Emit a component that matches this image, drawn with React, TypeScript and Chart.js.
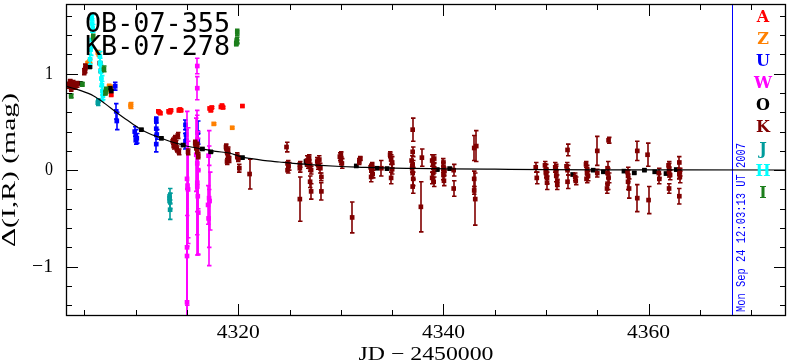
import React, { useEffect, useRef } from 'react';
import { Chart, registerables } from 'chart.js';

Chart.register(...registerables);

// ---------- axis ranges & ticks ----------
const X_MIN = 4303.2;
const X_MAX = 4373.4;
const Y_MIN = -1.512;
const Y_MAX = 1.723;
const xMajorTicks = [4320, 4340, 4360];
const xMinorStep = 5;
const yMajorTicks = [-1, 0, 1];
const yMinorStep = 0.2;

const xTitle = 'JD \u2212 2450000';
const yTitle = '\u0394(I,R) (mag)';
const titleLines = ['OB-07-355', 'KB-07-278'];
const dateStamp = 'Mon Sep 24 12:03:13 UT 2007';
const stampJD = 4368.1;

// ---------- series (legend order) ----------
const seriesNames = ['A', 'Z', 'U', 'W', 'O', 'K', 'J', 'H', 'I'];
const seriesColors = ['#ff0000', '#ff8000', '#0000ff', '#ff00ff', '#000000', '#800000', '#009c9c', '#00ffff', '#1c7f1c'];

// [JD-2450000, Δmag, error]
const obsA = [
  [4307.6, 0.78, 0.01],
  [4312.2, 0.61, 0.01], [4312.3, 0.60, 0.01], [4312.4, 0.59, 0.01],
  [4313.2, 0.61, 0.01], [4313.3, 0.60, 0.01], [4313.4, 0.62, 0.01],
  [4314.2, 0.62, 0.01], [4314.3, 0.63, 0.01], [4314.4, 0.62, 0.01],
  [4317.2, 0.64, 0.01], [4317.3, 0.62, 0.01], [4317.4, 0.65, 0.01],
  [4318.3, 0.655, 0.01], [4318.4, 0.67, 0.01], [4318.5, 0.65, 0.01],
  [4320.4, 0.665, 0.01],
];
const obsZ = [
  [4305.3, 1.11, 0.02], [4305.5, 1.13, 0.02], [4306.3, 1.22, 0.02], [4306.4, 1.20, 0.02],
  [4307.4, 0.87, 0.02], [4307.5, 0.84, 0.02], [4307.6, 0.86, 0.02],
  [4309.5, 0.68, 0.02], [4309.5, 0.66, 0.02],
  [4317.6, 0.48, 0.01], [4319.4, 0.44, 0.01],
];
const obsU = [
  [4308.0, 0.87, 0.04], [4308.1, 0.61, 0.08], [4308.15, 0.51, 0.09],
  [4309.9, 0.40, 0.05], [4310.0, 0.36, 0.06], [4310.1, 0.33, 0.05], [4310.0, 0.31, 0.04],
  [4312.0, 0.52, 0.03], [4312.0, 0.43, 0.06], [4312.05, 0.37, 0.05], [4312.0, 0.27, 0.08],
  [4314.85, 0.47, 0.05], [4314.9, 0.37, 0.05], [4314.85, 0.30, 0.08],
  [4316.05, 0.39, 0.12], [4316.05, 0.30, 0.08],
];
const obsW = [
  [4315.0, -0.09, 0.70], [4315.05, -0.16, 0.60], [4315.1, -0.20, 0.50],
  [4315.0, -0.80, 0.60], [4315.0, -0.89, 0.70], [4315.0, -1.37, 0.90],
  [4316.0, 1.08, 0.08], [4316.0, 0.85, 0.12],
  [4315.9, 0.16, 0.38], [4316.0, 0.07, 0.50], [4316.1, 0.0, 0.40], [4316.0, -0.17, 0.50],
  [4316.05, -0.27, 0.60], [4316.1, -0.44, 0.44], [4316.0, -0.13, 0.75],
  [4317.15, -0.29, 0.70], [4317.1, 0.15, 0.10], [4317.2, -0.32, 0.30], [4317.1, -0.50, 0.30], [4317.05, -0.36, 0.20],
];
const obsO = [
  [4304.6, 0.90, 0.01], [4305.5, 1.07, 0.01], [4306.5, 1.11, 0.01], [4306.6, 1.03, 0.01],
  [4307.5, 0.85, 0.01], [4307.6, 0.82, 0.01], [4310.55, 0.42, 0.01], [4312.5, 0.33, 0.01],
  [4314.6, 0.26, 0.01], [4316.5, 0.22, 0.01], [4317.3, 0.19, 0.01], [4320.4, 0.13, 0.01],
  [4326.6, 0.09, 0.01], [4326.7, 0.06, 0.01], [4331.5, 0.044, 0.01], [4333.5, 0.02, 0.01],
  [4334.5, 0.016, 0.01], [4339.4, 0.006, 0.01], [4340.6, 0.016, 0.01], [4352.6, -0.045, 0.01],
  [4354.6, 0.0, 0.01], [4355.6, -0.017, 0.01], [4357.6, -0.01, 0.01], [4358.6, -0.028, 0.01],
  [4359.6, 0.0, 0.01], [4360.6, -0.017, 0.01], [4361.7, -0.035, 0.01], [4362.7, 0.006, 0.01],
];
const obsK = [
  [4303.5, 0.88, 0.03], [4303.7, 0.85, 0.03], [4303.9, 0.90, 0.03], [4304.1, 0.87, 0.03], [4304.3, 0.89, 0.03], [4303.6, 0.92, 0.02],
  [4305.0, 1.02, 0.03], [4305.1, 1.07, 0.03], [4305.05, 1.04, 0.03],
  [4313.6, 0.30, 0.03], [4313.7, 0.25, 0.03], [4313.8, 0.33, 0.03], [4313.9, 0.28, 0.03], [4314.0, 0.22, 0.03],
  [4314.1, 0.36, 0.03], [4314.2, 0.19, 0.03], [4313.8, 0.26, 0.03], [4315.1, 0.19, 0.03],
  [4315.8, 0.28, 0.03], [4315.9, 0.24, 0.03], [4316.0, 0.20, 0.03], [4316.1, 0.15, 0.03], [4316.0, 0.26, 0.03],
  [4318.8, 0.24, 0.03], [4318.9, 0.19, 0.03], [4319.0, 0.15, 0.03], [4319.1, 0.11, 0.03], [4318.9, 0.09, 0.03], [4319.0, 0.21, 0.03],
  [4319.9, 0.15, 0.03], [4320.0, 0.12, 0.03], [4320.1, 0.02, 0.04], [4321.1, -0.04, 0.155],
  [4324.7, 0.24, 0.05], [4324.8, 0.07, 0.03], [4324.9, 0.04, 0.04], [4324.8, 0.0, 0.03],
  [4326.0, 0.06, 0.03], [4326.0, 0.02, 0.04], [4326.0, -0.30, 0.23],
  [4326.7, 0.10, 0.05], [4326.8, 0.06, 0.04], [4326.9, 0.13, 0.03], [4327.0, 0.03, 0.04], [4327.1, 0.0, 0.04],
  [4326.9, 0.08, 0.03], [4327.0, -0.12, 0.06], [4327.1, -0.22, 0.08],
  [4327.7, 0.09, 0.04], [4327.8, 0.05, 0.04], [4327.9, 0.11, 0.04], [4328.0, 0.02, 0.05], [4328.1, -0.07, 0.04], [4328.1, -0.22, 0.09],
  [4329.9, 0.14, 0.04], [4330.0, 0.10, 0.04], [4330.1, 0.07, 0.05], [4330.0, 0.16, 0.03],
  [4331.1, -0.49, 0.16], [4331.8, 0.09, 0.03], [4331.9, 0.12, 0.02],
  [4332.9, 0.03, 0.03], [4333.0, 0.0, 0.04], [4333.1, -0.04, 0.04], [4332.95, -0.07, 0.05], [4333.05, 0.05, 0.03],
  [4333.95, 0.02, 0.08],
  [4334.8, 0.16, 0.03], [4334.9, 0.11, 0.05], [4335.0, 0.08, 0.06], [4335.0, 0.01, 0.05], [4334.9, -0.08, 0.06],
  [4337.0, 0.42, 0.12], [4337.0, 0.19, 0.05], [4336.9, 0.10, 0.05], [4337.0, 0.06, 0.04], [4336.95, 0.02, 0.04],
  [4337.0, -0.03, 0.06], [4337.05, -0.09, 0.07], [4337.0, -0.17, 0.07],
  [4337.9, 0.13, 0.09], [4337.8, -0.38, 0.26],
  [4338.9, 0.10, 0.06], [4339.0, 0.06, 0.05], [4339.1, 0.02, 0.05], [4339.0, -0.03, 0.05], [4338.9, -0.08, 0.06],
  [4339.05, -0.12, 0.05], [4339.1, 0.12, 0.04],
  [4340.0, 0.08, 0.04], [4340.0, 0.03, 0.05], [4340.1, -0.01, 0.04], [4340.0, -0.05, 0.05], [4340.05, -0.11, 0.05],
  [4341.0, 0.0, 0.06], [4341.0, -0.19, 0.08],
  [4343.0, 0.23, 0.13], [4343.2, 0.25, 0.16], [4343.0, -0.09, 0.08], [4343.0, -0.21, 0.04], [4343.1, -0.30, 0.27],
  [4349.0, 0.03, 0.05], [4349.1, -0.08, 0.06],
  [4349.9, 0.05, 0.04], [4350.0, 0.01, 0.05], [4350.0, -0.03, 0.05], [4350.1, -0.08, 0.06], [4350.1, -0.13, 0.07], [4350.0, -0.02, 0.04],
  [4350.9, 0.03, 0.05], [4351.0, -0.01, 0.05], [4351.0, -0.06, 0.06], [4351.1, -0.11, 0.06], [4351.1, -0.15, 0.05], [4350.95, 0.01, 0.05],
  [4352.1, 0.21, 0.06], [4352.0, 0.04, 0.04], [4352.1, 0.0, 0.05], [4352.1, -0.12, 0.07],
  [4352.85, -0.07, 0.04], [4352.9, -0.11, 0.04],
  [4353.9, 0.06, 0.03], [4354.0, 0.01, 0.04], [4354.0, -0.03, 0.05], [4354.1, -0.06, 0.05], [4353.95, -0.09, 0.04],
  [4355.0, 0.20, 0.15], [4355.0, -0.03, 0.04],
  [4356.1, 0.31, 0.03], [4356.0, 0.02, 0.07], [4356.0, -0.03, 0.05], [4356.1, -0.08, 0.05], [4356.0, -0.14, 0.06], [4355.95, -0.19, 0.05],
  [4357.95, -0.02, 0.05], [4358.0, -0.06, 0.06], [4358.0, -0.12, 0.08], [4358.1, -0.19, 0.10],
  [4358.9, 0.20, 0.10], [4358.9, -0.29, 0.14],
  [4359.9, 0.16, 0.12], [4360.0, -0.31, 0.14],
  [4361.0, -0.03, 0.05], [4361.05, -0.09, 0.05],
  [4361.95, 0.05, 0.04], [4362.0, 0.02, 0.05], [4362.0, -0.02, 0.05], [4362.1, -0.05, 0.05], [4362.0, -0.19, 0.05],
  [4363.0, 0.08, 0.06], [4363.0, -0.04, 0.05], [4363.05, -0.07, 0.06], [4363.0, -0.27, 0.08], [4363.05, -0.02, 0.04],
];
const obsJ = [
  [4306.3, 0.70, 0.03], [4306.35, 0.72, 0.02],
  [4313.3, -0.27, 0.08], [4313.3, -0.32, 0.08], [4313.35, -0.41, 0.10], [4313.3, -0.29, 0.05],
];
const obsH = [
  [4305.7, 1.58, 0.03], [4305.75, 1.52, 0.05], [4305.8, 1.47, 0.04], [4305.7, 1.35, 0.08],
  [4305.6, 1.25, 0.06], [4305.55, 1.15, 0.05],
  [4306.5, 1.18, 0.05], [4306.55, 1.10, 0.06], [4306.6, 1.02, 0.07], [4306.65, 0.95, 0.08],
  [4306.7, 0.88, 0.10], [4306.75, 0.82, 0.10], [4306.8, 0.77, 0.04],
];
const obsI = [
  [4303.7, 0.77, 0.02], [4304.8, 0.89, 0.02], [4305.85, 1.38, 0.03], [4306.9, 1.05, 0.03],
  [4307.1, 0.83, 0.03], [4307.05, 0.80, 0.02],
  [4319.9, 1.43, 0.03], [4319.85, 1.35, 0.03], [4319.8, 1.31, 0.02], [4319.85, 1.33, 0.02],
];
const seriesObs = [obsA, obsZ, obsU, obsW, obsO, obsK, obsJ, obsH, obsI];

// model light curve
const modelJD = [4303.2, 4304.5, 4305.9, 4307.0, 4308.1, 4309.0, 4309.7, 4310.4, 4311.3, 4312.3, 4313.3, 4314.3, 4315.4,
  4316.5, 4317.8, 4319.1, 4320.4, 4321.1, 4322.4, 4324.0, 4326.0, 4328.0, 4330.0, 4332.0, 4334.0, 4337.0, 4340.5,
  4345.0, 4350.0, 4355.0, 4363.0, 4373.4];
const modelMag = [0.87, 0.83, 0.77, 0.69, 0.60, 0.53, 0.48, 0.43, 0.38, 0.34, 0.30, 0.27, 0.24,
  0.22, 0.195, 0.178, 0.135, 0.122, 0.102, 0.085, 0.065, 0.05, 0.038, 0.03, 0.023, 0.018, 0.014,
  0.01, 0.006, 0.004, 0.003, 0.002];

// ---------- drawing helpers ----------
function fitText(ctx: CanvasRenderingContext2D, text: string, cx: number, cy: number, font: string, width: number, rot = 0, align: 'center' | 'right' = 'center') {
  ctx.save();
  ctx.font = font;
  ctx.textBaseline = 'middle';
  ctx.textAlign = align;
  const w = ctx.measureText(text).width;
  ctx.translate(cx, cy);
  if (rot) ctx.rotate(rot);
  ctx.scale(width / w, 1);
  ctx.fillText(text, 0, 0);
  ctx.restore();
}

const pgPlugin = {
  id: 'pgplot',
  beforeDatasetsDraw(chart: any) {
    const { ctx, chartArea: a, scales } = chart;
    const bx = Math.round(scales.x.getPixelForValue(stampJD)) + 0.5;
    ctx.save();
    ctx.strokeStyle = '#0000ff';
    ctx.lineWidth = 1;
    ctx.beginPath();
    ctx.moveTo(bx, a.top);
    ctx.lineTo(bx, a.bottom);
    ctx.stroke();
    ctx.restore();
  },
  beforeDatasetDraw(chart: any, args: any) {
    const ds = chart.data.datasets[args.index];
    if (!ds.errs) return;
    const { ctx, chartArea: a, scales } = chart;
    ctx.save();
    ctx.beginPath();
    ctx.rect(a.left, a.top, a.right - a.left, a.bottom - a.top);
    ctx.clip();
    ctx.strokeStyle = ds.backgroundColor;
    ctx.lineWidth = 1.6;
    ds.data.forEach((p: any, i: number) => {
      const e = ds.errs[i];
      const px = Math.round(scales.x.getPixelForValue(p.x));
      const y1 = scales.y.getPixelForValue(p.y + e);
      const y2 = scales.y.getPixelForValue(p.y - e);
      ctx.beginPath();
      ctx.moveTo(px, y1);
      ctx.lineTo(px, y2);
      ctx.moveTo(px - 2, y1);
      ctx.lineTo(px + 2.5, y1);
      ctx.moveTo(px - 2, y2);
      ctx.lineTo(px + 2.5, y2);
      ctx.stroke();
    });
    ctx.restore();
  },
  afterDraw(chart: any) {
    const { ctx, chartArea: a, scales } = chart;
    const xs = scales.x, ys = scales.y;
    ctx.save();
    ctx.strokeStyle = '#000';
    ctx.fillStyle = '#000';
    ctx.lineWidth = 1.3;
    ctx.strokeRect(a.left + 0.5, a.top + 0.5, a.right - a.left - 1, a.bottom - a.top - 1);
    ctx.lineWidth = 1;
    for (let v = Math.ceil(X_MIN / xMinorStep) * xMinorStep; v <= X_MAX; v += xMinorStep) {
      const px = Math.round(xs.getPixelForValue(v)) + 0.5;
      const len = xMajorTicks.includes(v) ? 12 : 6;
      ctx.beginPath();
      ctx.moveTo(px, a.bottom);
      ctx.lineTo(px, a.bottom - len);
      ctx.moveTo(px, a.top);
      ctx.lineTo(px, a.top + len);
      ctx.stroke();
    }
    for (let k = Math.ceil(Y_MIN / yMinorStep); k * yMinorStep <= Y_MAX; k++) {
      const v = k * yMinorStep;
      const py = Math.round(ys.getPixelForValue(v)) + 0.5;
      const major = yMajorTicks.some((t) => Math.abs(t - v) < 1e-6);
      const len = major ? 12 : 6;
      ctx.beginPath();
      ctx.moveTo(a.left, py);
      ctx.lineTo(a.left + len, py);
      ctx.moveTo(a.right, py);
      ctx.lineTo(a.right - len, py);
      ctx.stroke();
    }
    const tickFont = '19px "Liberation Serif"';
    xMajorTicks.forEach((t) => {
      fitText(ctx, String(t), xs.getPixelForValue(t), 333, tickFont, 43);
    });
    yMajorTicks.forEach((t) => {
      const s = t < 0 ? '\u2212' + Math.abs(t) : String(t);
      fitText(ctx, s, a.left - 13, ys.getPixelForValue(t), tickFont, t < 0 ? 21 : 8, 0, 'right');
    });
    fitText(ctx, xTitle, (a.left + a.right) / 2, 355, tickFont, 135);
    fitText(ctx, yTitle, 10, 170, tickFont, 154, -Math.PI / 2);
    fitText(ctx, titleLines[0], 157.5, 25, '26px "DejaVu Sans Mono"', 145);
    fitText(ctx, titleLines[1], 157.5, 48, '26px "DejaVu Sans Mono"', 145);
    seriesNames.forEach((n, i) => {
      ctx.fillStyle = seriesColors[i];
      ctx.font = 'bold 16px "DejaVu Serif"';
      ctx.textAlign = 'center';
      ctx.textBaseline = 'middle';
      ctx.fillText(n, 763, 18 + i * 22);
    });
    ctx.fillStyle = '#0000ff';
    fitText(ctx, dateStamp, 742, 227.5, '13px "Liberation Mono"', 169, -Math.PI / 2);
    ctx.restore();
  },
};

export default function App() {
  const ref = useRef<HTMLCanvasElement>(null);
  useEffect(() => {
    const canvas = ref.current;
    if (!canvas) return;
    const datasets: any[] = [
      {
        label: 'model',
        data: modelJD.map((x, i) => ({ x, y: modelMag[i] })),
        showLine: true,
        borderColor: '#000',
        backgroundColor: '#000',
        borderWidth: 1.2,
        pointRadius: 0,
        cubicInterpolationMode: 'monotone',
        order: 0,
      },
    ];
    seriesObs.forEach((obs, i) => {
      datasets.push({
        label: seriesNames[i],
        data: obs.map((r) => ({ x: r[0], y: r[1] })),
        errs: obs.map((r) => r[2]),
        backgroundColor: seriesColors[i],
        borderWidth: 0,
        pointStyle: 'rect',
        pointRadius: 3.3,
        showLine: false,
        order: 20 - i,
      });
    });
    const chart = new Chart(canvas, {
      type: 'scatter',
      data: { datasets },
      options: {
        animation: false,
        responsive: false,
        devicePixelRatio: 1,
        layout: { padding: { left: 66, right: 1, top: 0, bottom: 46 } },
        plugins: { legend: { display: false }, tooltip: { enabled: false } },
        scales: {
          x: { type: 'linear', min: X_MIN, max: X_MAX, display: false },
          y: { type: 'linear', min: Y_MIN, max: Y_MAX, display: false },
        },
      },
      plugins: [pgPlugin],
    });
    return () => chart.destroy();
  }, []);
  return (
    <div style={{ position: 'fixed', left: 0, top: 0, width: 790, height: 362, background: '#fff' }}>
      <canvas ref={ref} width={790} height={362} />
    </div>
  );
}
